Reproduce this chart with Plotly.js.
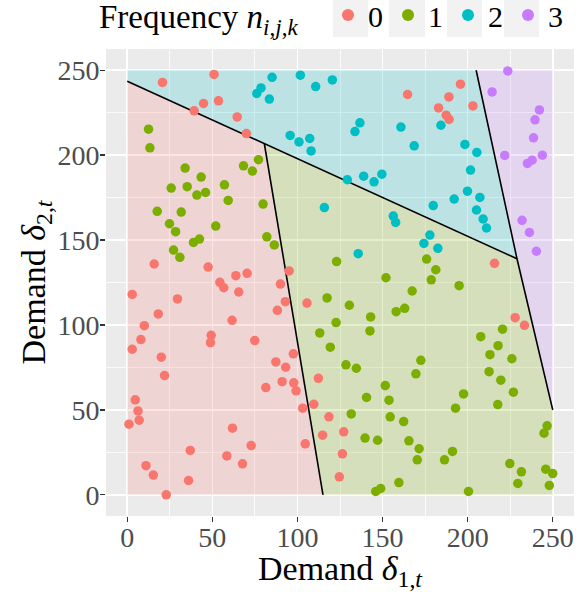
<!DOCTYPE html>
<html>
<head>
<meta charset="utf-8">
<script src="https://cdn.plot.ly/plotly-3.0.1.min.js"></script>
<style>html,body{margin:0;padding:0;background:#fff;}#chart{width:576px;height:592px;}</style>
</head>
<body>
<div id="chart"></div>
<script>
// Scatter data by frequency class
const x0 = [20.7,51,44.8,53.6,39.3,64.6,70,164.7,195.8,189,203.1,182.9,187.4,189.1,15.8,47.5,54.4,56.7,63.8,70.4,65.5,2.9,29.5,18.2,10,61.6,8,2.9,49.3,48.9,74.9,20,21.9,81.4,4.7,6.3,7,1,61.8,37,72.8,58.5,67.7,11,15.3,36,22.9,97.6,87.3,93.1,91,97.8,99.2,112.3,103.1,109.6,118.5,114.8,104.6,127.2,126.4,124.6,95.1,90,92.9,88.2,105.6,215.8,227.9,233.4];
const y0 = [242.8,247.5,230.4,232,226.1,222.5,212.7,235.7,241.8,234.3,229,227.8,223.5,221,135.9,134.1,125.1,121.9,129,130.4,119.4,118,115.3,106.5,99.6,102.7,91.4,85.7,93.9,89.6,90.8,81,70.2,63.1,55.9,49.4,43.9,41.6,39.2,26.1,29,22.9,18.2,17.1,11.6,8.4,0,83,78.2,75.1,66.6,65.9,61.2,68.6,51,53.3,45.9,35.1,30,37.1,24.1,10.6,131.8,124.1,113.7,108.6,112.9,136.3,104.3,99.8];

const x1 = [12.5,13.3,77.1,68.3,73.5,34,43.4,25.8,35.2,40.9,46,57.1,59.3,79.8,17.6,31.7,24.8,28.4,52,82,38.9,42.4,27.2,30.9,86.4,123,152,167.4,117.4,130.5,158,163,143,122.7,142.6,113.1,119.3,128.5,134.6,169.6,151.6,140.6,153.8,131.6,154.5,162.4,139.7,147.1,165.5,171.5,170.4,159.6,146,148.9,172.5,213.1,226,212.6,219.5,226.9,197.6,192.9,217.7,246.7,244.9,191.1,186.4,224.8,231.6,229.5,245.9,250,248,200.5,175.9,181.3,178.6,195,220.5,207.7,217.9];
const y1 = [215.3,204.3,197.3,193.7,190.6,192.4,187.1,180.6,181.4,176.5,178,182.5,173.3,171.2,166.9,166.5,159.6,154.9,158.2,151.9,148.6,150.6,144.1,139.8,147.1,137.3,127.8,120,115.9,111.6,107.8,109.8,104.7,101.4,96.5,95.3,86.9,76.5,74.5,71.2,64.3,57.3,55.7,47.6,45.9,43.1,33.4,32.1,31.8,27.1,20.6,7.2,2,3.7,79.2,82.5,80.1,72.5,67.5,60.4,59.4,51,53.1,40.6,36.3,25.5,20.6,18.4,13.5,6.7,15.1,12.5,5.5,2,138.8,132.5,126.6,123.1,97.5,93.1,87.8];

const x2 = [85.1,78.6,76.1,83.5,101.7,110.7,120.5,136.7,133.8,160.8,95.7,100.9,107.2,108,168.6,129.3,138.9,145,149.6,115.8,135.7,156.3,157.7,179.8,205.2,209.1,211.1,177.8,174.3,182.5,184.3,198.4,205.4,201.7,199.9,192.1,207.2];
const y2 = [245.8,239.6,236.3,233,247.1,240.4,244.3,219,213.9,216.5,211.6,207.8,209.8,202.5,205.5,185.5,187.6,184.3,188.8,169.1,142,164.1,160.4,170.3,167.7,162.4,157.1,152.9,148,145.1,217.6,206.3,201.6,191.2,178.8,174.1,175.1];

const x3 = [223.6,214.4,242.2,239.6,238.7,221.8,243.9,237.9,235.1,232,236.3,240.4];
const y3 = [249.6,237.2,226.6,220.8,210.2,199.8,200,197,195.1,161.6,154.5,143.4];

const classNames = ['0','1','2','3'];
const classColors = ['#F8766D','#7CAE00','#00BFC4','#C77CFF'];
const legendTitle = 'Frequency <i>n</i><sub><i>i</i>,<i>j</i>,<i>k</i></sub>';

// Decision regions (polygon vertices)
const regionX = [[0,0,80.5,115],[0,0,205,229],[115,80.5,229,250,250],[205,250,250,229]];
const regionY = [[0,243.5,207,0],[243.5,250,250,139],[0,207,139,50,0],[250,250,50,139]];
const regionFill = ['rgba(248,118,109,0.2)','rgba(0,191,196,0.2)','rgba(124,174,0,0.2)','rgba(199,124,255,0.2)'];

// Boundary segments
const boundX = [0,229,null,80.5,115,null,205,229,250];
const boundY = [243.5,139,null,207,0,null,250,139,50];

const font = 'Liberation Serif, Times New Roman, serif';
const traces = [];
for (let i = 0; i < 4; i++) {
  traces.push({type:'scatter', mode:'lines', x: regionX[i], y: regionY[i], fill:'toself',
    fillcolor: regionFill[i], line:{width:0, color:'rgba(0,0,0,0)'}, showlegend:false, hoverinfo:'skip'});
}
traces.push({type:'scatter', mode:'lines', x: boundX, y: boundY, line:{color:'#000', width:1.6},
  showlegend:false, hoverinfo:'skip'});
const xs = [x0,x1,x2,x3], ys = [y0,y1,y2,y3];
for (let i = 0; i < 4; i++) {
  traces.push({type:'scatter', mode:'markers', x: xs[i], y: ys[i], name: classNames[i],
    marker:{color: classColors[i], size: 9.5, line:{width:0}}});
}

const axisCommon = {
  range:[-12.5,262.5], tickvals:[0,50,100,150,200,250], showgrid:true, gridcolor:'#fff', gridwidth:1.6,
  zeroline:false, showline:false, ticks:'outside', ticklen:5, tickwidth:1.3, tickcolor:'#333',
  tickfont:{family: font, size: 28, color:'#4D4D4D'},
  minor:{dtick:25, tick0:0, showgrid:true, gridcolor:'#fff', gridwidth:0.8, ticks:''},
  automargin:false, fixedrange:true
};
// legend key backgrounds (ggplot-style grey key boxes), paper coordinates
const keyBoxes = [[333,368],[389,425],[447,482],[504,539]];
const pw = 468, ph = 467;
const shapes = keyBoxes.map(b => ({type:'rect', xref:'paper', yref:'paper',
  x0:(b[0]-106)/pw, x1:(b[1]-106)/pw, y0:1+(49-37)/ph, y1:1+49/ph,
  fillcolor:'#F2F2F2', line:{width:0}, layer:'above'}));

const layout = {
  width:576, height:592,
  margin:{l:106, r:2, t:49, b:76},
  paper_bgcolor:'#fff', plot_bgcolor:'#EBEBEB',
  font:{family: font, color:'#000'},
  xaxis: Object.assign({}, axisCommon, {ticklabelstandoff:-9, title:{text:'Demand <i>δ</i><sub>1,<i>t</i></sub>', font:{family:font, size:34, color:'#000'}, standoff:0}}),
  yaxis: Object.assign({}, axisCommon, {ticklabelstandoff:-5, title:{text:'Demand <i>δ</i><sub>2,<i>t</i></sub>', font:{family:font, size:34, color:'#000'}, standoff:0}}),
  legend:{orientation:'h', xref:'paper', x:(328-106)/pw, xanchor:'left', yref:'container', y:1-15/592, yanchor:'middle',
    font:{family:font, size:30, color:'#000'}, bgcolor:'rgba(0,0,0,0)', itemsizing:'constant', tracegroupgap:0},
  annotations:[{text: legendTitle, xref:'paper', yref:'paper', x:(97-106)/pw, xanchor:'left',
    y:1+52/ph, yanchor:'top', showarrow:false, font:{family:font, size:33, color:'#000'}}],
  shapes: shapes,
  showlegend:true
};
Plotly.newPlot('chart', traces, layout, {displayModeBar:false, staticPlot:true});
</script>
</body>
</html>
